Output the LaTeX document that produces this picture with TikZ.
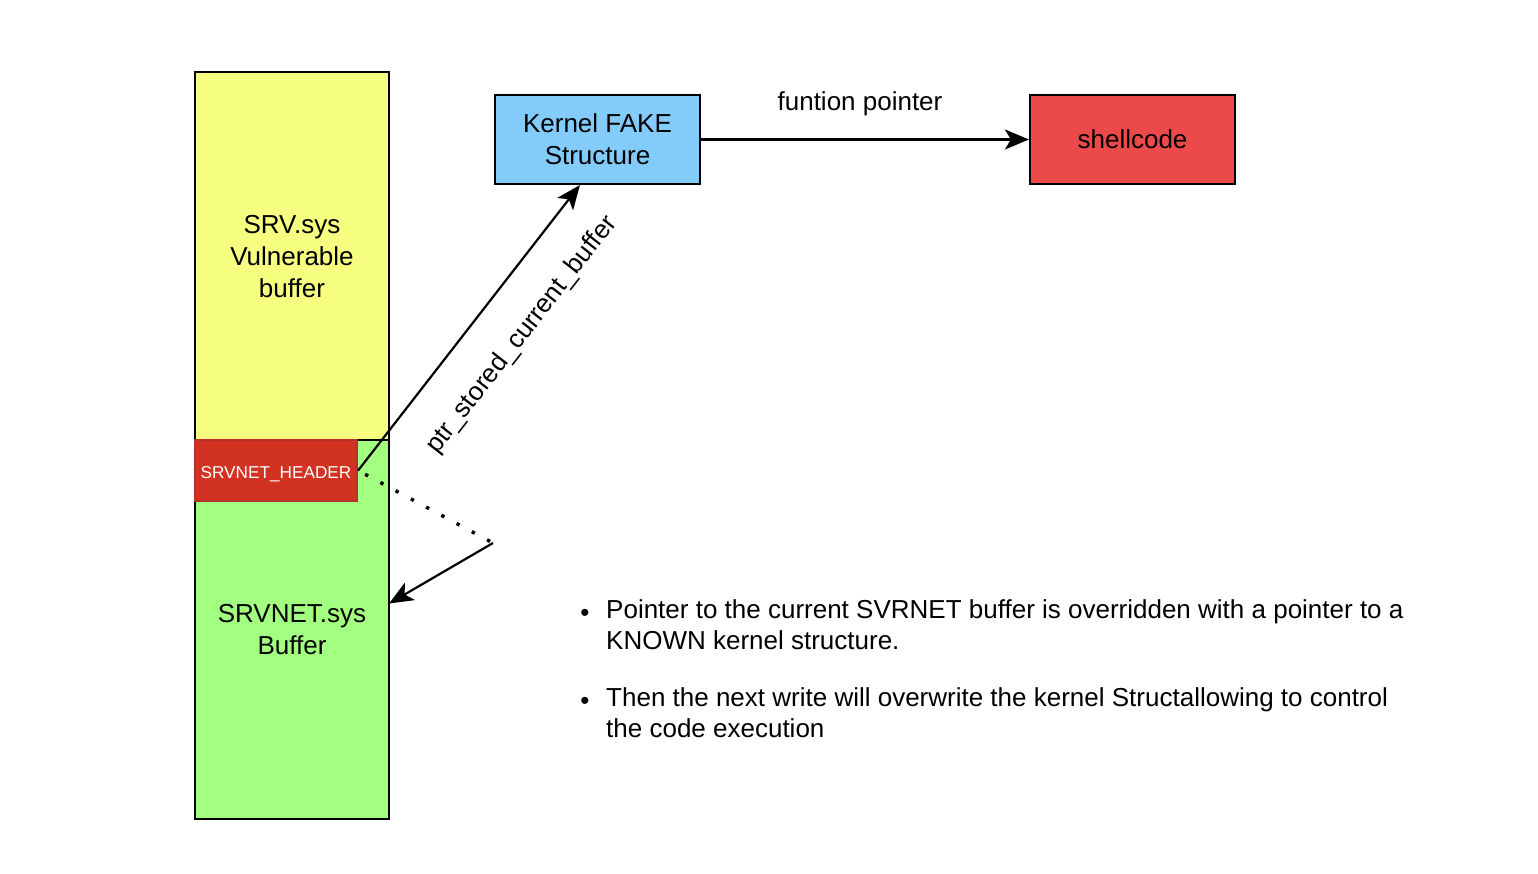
\documentclass[tikz,border=0pt]{standalone}
\usepackage{fontspec}
\setmainfont{Liberation Sans}
\usetikzlibrary{arrows.meta,calc}
\definecolor{cyellow}{HTML}{F6FF80}
\definecolor{cgreen}{HTML}{A3FF80}
\definecolor{chdr}{HTML}{D23221}
\definecolor{chdrb}{HTML}{B5312A}
\definecolor{cblue}{HTML}{83CBFA}
\definecolor{cred}{HTML}{EC4A4A}
\tikzset{
  box/.style={draw=black, line width=2.2pt, inner sep=0pt, align=center, font=\fontsize{26}{32}\selectfont},
  arr/.style={line width=2.2pt, -{Stealth[length=24pt,width=20pt,inset=6pt]}},
  txt/.style={inner sep=0pt, font=\fontsize{26}{31}\selectfont},
}
\begin{document}
\begin{tikzpicture}[x=1pt,y=-1pt]
\useasboundingbox (0,0) rectangle (1538,874);
\fill[white] (0,0) rectangle (1538,874);
% memory boxes
\node[box, fill=cyellow, minimum width=194pt, minimum height=369pt] (srv) at (292,256.5) {SRV.sys\\Vulnerable\\buffer};
\node[box, fill=cgreen, minimum width=194pt, minimum height=379pt] (srvnet) at (292,629.5) {SRVNET.sys\\Buffer};
\node[box, draw=chdrb, fill=chdr, text=white, minimum width=162pt, minimum height=61pt, font=\fontsize{17.2}{20}\selectfont] (hdr) at (276,470.5) {\raisebox{-4pt}[\height][\depth]{SRVNET\_HEADER}};
% top boxes
\node[box, fill=cblue, minimum width=205pt, minimum height=89pt] (kern) at (597.5,139.5) {Kernel FAKE\\Structure};
\node[box, fill=cred, minimum width=205pt, minimum height=89pt] (shell) at (1132.5,139.5) {shellcode};
% connectors
\draw[arr] (kern.east) -- (shell.west);
\node[txt] (fp) at (860,104) {funtion pointer};
\draw[arr] (hdr.east) -- ($(kern.south west)!0.415!(kern.south east)$);
\node[txt, rotate=52] (ptr) at (522,335) {ptr\_stored\_current\_buffer};
\coordinate (bend) at (493,543);
\draw[line width=3.4pt, dash pattern=on 3.4pt off 13.9pt, shorten <=8pt] (hdr.east) -- (bend);
\draw[arr] (bend) -- ($(srvnet.east)+(-1,-26)$);
% bullets
\node[txt] (b1) at (585,615) {\textbullet};
\node[txt, anchor=north west, align=left] (t1) at (606,599) {Pointer to the current SVRNET buffer is overridden with a pointer to a\\KNOWN kernel structure.};
\node[txt] (b2) at (585,703) {\textbullet};
\node[txt, anchor=north west, align=left] (t2) at (606,687) {Then the next write will overwrite the kernel Structallowing to control\\the code execution};
\end{tikzpicture}
\end{document}
